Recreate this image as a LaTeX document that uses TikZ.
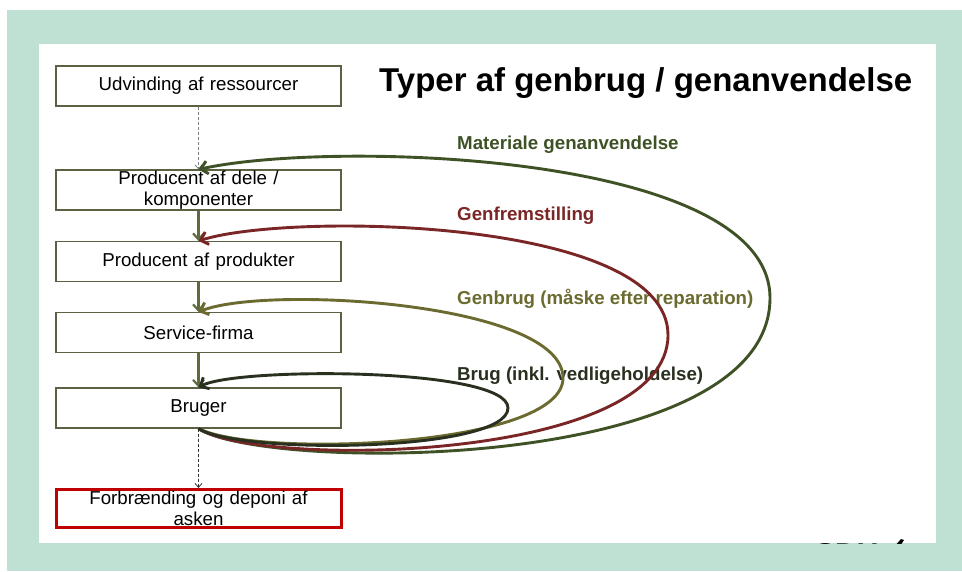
\documentclass[tikz,border=0pt]{standalone}
\usepackage{fontspec}
\setmainfont{Liberation Sans}
\usetikzlibrary{arrows.meta}
\definecolor{mint}{HTML}{BFE1D3}
\definecolor{boxline}{HTML}{5B6142}
\definecolor{flowgreen}{HTML}{5E6B3E}
\definecolor{brugcol}{HTML}{2A3020}
\definecolor{genbrugcol}{HTML}{6B6B30}
\definecolor{genfremcol}{HTML}{7B2626}
\definecolor{materialcol}{HTML}{3E5226}
\definecolor{burnred}{HTML}{C00000}
\tikzset{
  stepbox/.style={draw=boxline, line width=1.1pt, minimum width=285pt, minimum height=40pt,
    inner sep=0pt, text width=285pt, align=center, font=\fontsize{18.7}{21.5}\selectfont},
  flowarrow/.style={draw=flowgreen, line width=2.2pt, -{Straight Barb[length=6pt,width=11pt]}},
  dasharrow/.style={dash pattern=on 3pt off 2pt, line width=0.8pt, -{Straight Barb[length=4pt,width=7pt]}},
  loopline/.style={line width=2.9pt, -{Straight Barb[length=7pt,width=13pt]}},
  looplabel/.style={anchor=base west, inner sep=0pt, font=\fontsize{18.7}{22}\selectfont\bfseries}
}
\begin{document}
\begin{tikzpicture}[x=1pt,y=-1pt]
\useasboundingbox (0,0) rectangle (962,571);
% frame
\fill[mint] (7,10) rectangle (962,571);
\fill[white] (39,44) rectangle (936,543);
\begin{scope}
  \clip (39,44) rectangle (936,543);
  \node[anchor=base west, inner sep=0pt, font=\fontsize{30}{30}\selectfont\bfseries] (logo) at (815,564) {SDU};
  \fill (894,547) -- (901,539) -- (904,540) -- (898,549) -- cycle;
\end{scope}

% title
\node[anchor=base west, inner sep=0pt, font=\fontsize{33}{36}\selectfont\bfseries] (title) at (379,91) {Typer af genbrug / genanvendelse};

% boxes
\node[stepbox] (udvinding) at (198.5,86) {Udvinding af ressourcer};
\node[stepbox] (deleprod) at (198.5,190) {Producent af dele /\\ komponenter};
\node[stepbox] (produkter) at (198.5,261.5) {Producent af produkter};
\node[stepbox] (service) at (198.5,332.5) {Service-firma};
\node[stepbox] (bruger) at (198.5,408) {Bruger};
\node[stepbox, draw=burnred, line width=3pt, minimum width=284pt, minimum height=38pt] (forbraending) at (198.5,508.5) {Forbrænding og deponi af\\ asken};

% labels
\node[looplabel, text=materialcol] (lmat) at (457,149) {Materiale genanvendelse};
\node[looplabel, text=genfremcol] (lgenfrem) at (457,220) {Genfremstilling};
\node[looplabel, text=genbrugcol] (lgenbrug) at (457,304) {Genbrug (måske efter reparation)};
\node[looplabel, text=brugcol] (lbrug) at (457,380) {Brug (inkl. vedligeholdelse)};

% straight flow
\draw[dasharrow, draw=gray] (udvinding.south) -- (deleprod.north);
\draw[flowarrow] (deleprod.south) -- (produkter.north);
\draw[flowarrow] (produkter.south) -- (service.north);
\draw[flowarrow] (service.south) -- (bruger.north);
\draw[dasharrow, draw=black!80] (bruger.south) -- (forbraending.north);

% loops
\draw[loopline, materialcol] (bruger.south) .. controls (265,472) and (770,474) .. (770,298)
  .. controls (770,152) and (330,140) .. (deleprod.north);
\draw[loopline, genfremcol] (bruger.south) .. controls (260,468) and (668,463) .. (668,335)
  .. controls (668,218) and (290,212) .. (produkter.north);
\draw[loopline, genbrugcol] (bruger.south) .. controls (255,458) and (563,448) .. (563,378)
  .. controls (563,302) and (265,285) .. (service.north);
\draw[loopline, brugcol] (bruger.south) .. controls (240,455) and (508,452) .. (508,408)
  .. controls (508,367) and (235,367) .. (bruger.north);
\end{tikzpicture}
\end{document}
